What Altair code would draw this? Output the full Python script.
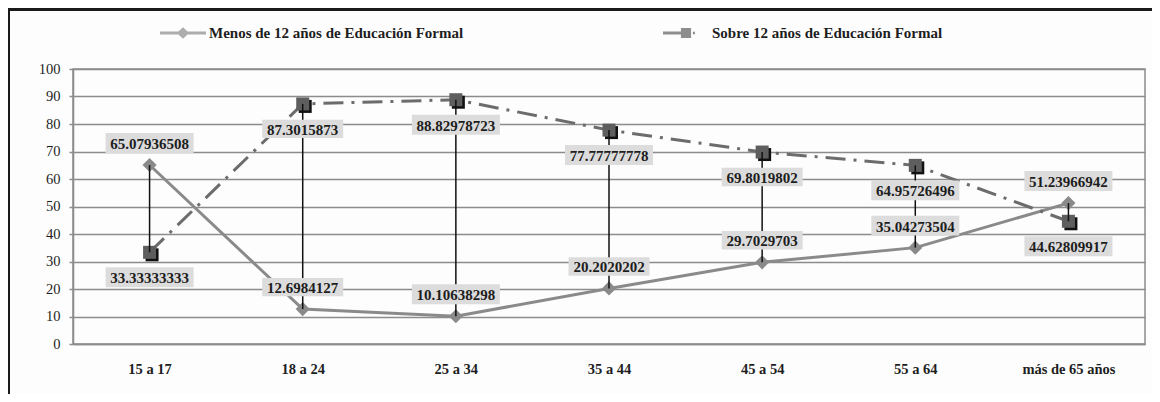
import altair as alt
import pandas as pd

categorias = ["15 a 17", "18 a 24", "25 a 34", "35 a 44", "45 a 54", "55 a 64", "más de 65 años"]
serie_menos = "Menos de 12 años de Educación Formal"
serie_sobre = "Sobre 12 años de Educación Formal"
valores_menos = [65.07936508, 12.6984127, 10.10638298, 20.2020202, 29.7029703, 35.04273504, 51.23966942]
valores_sobre = [33.33333333, 87.3015873, 88.82978723, 77.77777778, 69.8019802, 64.95726496, 44.62809917]
etiquetas_menos = ["65.07936508", "12.6984127", "10.10638298", "20.2020202", "29.7029703", "35.04273504", "51.23966942"]
etiquetas_sobre = ["33.33333333", "87.3015873", "88.82978723", "77.77777778", "69.8019802", "64.95726496", "44.62809917"]
ticks_y = [0, 10, 20, 30, 40, 50, 60, 70, 80, 90, 100]

FONT = "Liberation Serif"
C_MENOS = "#8a8a8a"
C_SOBRE = "#6c6c6c"
C_SQUARE = "#5e5e5e"
C_BOX = "#dcdcdc"
C_TEXT = "#1e1e1e"
C_GRID = "#8c8c8c"

wide = pd.DataFrame({"cat": categorias, "menos": valores_menos, "sobre": valores_sobre})

rows = []
for c, v, l in zip(categorias, valores_menos, etiquetas_menos):
    rows.append({"cat": c, "serie": serie_menos, "valor": v, "etiqueta": l})
for c, v, l in zip(categorias, valores_sobre, etiquetas_sobre):
    rows.append({"cat": c, "serie": serie_sobre, "valor": v, "etiqueta": l})
long = pd.DataFrame(rows)
# label box size (symbol area = width^2 for custom path)
long["caja"] = (long["etiqueta"].str.len() * 7 + 11) ** 2

x_scale = alt.Scale(type="point", padding=0.5)
x_axis = alt.Axis(labelAngle=0, ticks=False, grid=False, labelFontWeight="bold",
                  labelPadding=18, domainColor=C_GRID, domainWidth=1.5)
y_scale = alt.Scale(domain=[0, 100], nice=False)
y_axis = alt.Axis(values=ticks_y, grid=True, gridColor=C_GRID, gridWidth=1.5,
                  tickSize=4, tickColor=C_GRID, tickWidth=1.5, labelOverlap=False,
                  domainColor=C_GRID, domainWidth=1.5, labelPadding=9)

x_enc = alt.X("cat:N", sort=categorias, title=None, scale=x_scale, axis=x_axis)
y_enc = alt.Y("valor:Q", title=None, scale=y_scale, axis=y_axis)

base = alt.Chart(long).encode(x=x_enc, y=y_enc)
menos = base.transform_filter(alt.datum.serie == serie_menos)
sobre = base.transform_filter(alt.datum.serie == serie_sobre)

line_menos = menos.mark_line(color=C_MENOS, strokeWidth=3)
line_sobre = sobre.mark_line(color=C_SOBRE, strokeWidth=3, strokeDash=[20, 8, 3, 8])

pt_menos = menos.mark_point(shape="diamond", filled=True, size=200, color=C_MENOS, opacity=1)
shadow_sobre = sobre.mark_point(shape="square", filled=True, size=169, color="#111111",
                                opacity=1, xOffset=2.5, yOffset=2.5)
pt_sobre = sobre.mark_point(shape="square", filled=True, size=169, color=C_SQUARE, opacity=1)

hilo = alt.Chart(wide).mark_rule(color="#111111", strokeWidth=1.5).encode(
    x=alt.X("cat:N", sort=categorias, title=None, scale=x_scale, axis=x_axis),
    y=alt.Y("menos:Q", title=None, scale=y_scale, axis=y_axis),
    y2="sobre:Q")

BOX_PATH = "M-1,-0.227L1,-0.227L1,0.227L-1,0.227Z"
box_menos = menos.mark_point(shape=BOX_PATH, filled=True, color=C_BOX, opacity=1, yOffset=-22).encode(
    size=alt.Size("caja:Q", scale=None, legend=None))
box_sobre = sobre.mark_point(shape=BOX_PATH, filled=True, color=C_BOX, opacity=1, yOffset=25).encode(
    size=alt.Size("caja:Q", scale=None, legend=None))
txt_menos = menos.mark_text(font=FONT, fontSize=15, fontWeight="bold", color=C_TEXT,
                            baseline="middle", yOffset=-21).encode(text="etiqueta:N")
txt_sobre = sobre.mark_text(font=FONT, fontSize=15, fontWeight="bold", color=C_TEXT,
                            baseline="middle", yOffset=26).encode(text="etiqueta:N")

P_MENOS = ("M-1,-0.065L-0.2,-0.065L0,-0.25L0.2,-0.065L1,-0.065L1,0.065L0.2,0.065"
           "L0,0.25L-0.2,0.065L-1,0.065Z")
P_SOBRE = ("M-1,-0.065L-0.22,-0.065L-0.22,-0.22L0.22,-0.22L0.22,0.22L-0.22,0.22"
           "L-0.22,0.065L-1,0.065Z M0.3,-0.05L0.39,-0.05L0.39,0.05L0.3,0.05Z")
# legend-only layer: no rows survive the filter, scales have explicit domains
leyenda = base.transform_filter(alt.datum.valor < -1).mark_point(filled=True).encode(
    color=alt.Color("serie:N", scale=alt.Scale(domain=[serie_menos, serie_sobre], range=[C_MENOS, C_SQUARE]),
                    legend=alt.Legend(title=None, orient="none", direction="horizontal",
                                      legendX=87, legendY=-59, symbolSize=2116,
                                      symbolStrokeWidth=0, labelOffset=3, columnPadding=199,
                                      labelFont=FONT, labelFontSize=15, labelFontWeight="bold",
                                      labelColor=C_TEXT, labelLimit=400)),
    shape=alt.Shape("serie:N", scale=alt.Scale(domain=[serie_menos, serie_sobre], range=[P_MENOS, P_SOBRE])))

marco_top = alt.Chart(wide).mark_rule(color="#1a1a1a", strokeWidth=3).encode(
    x=alt.value(-66), x2=alt.value(1079), y=alt.value(-59.5))
marco_left = alt.Chart(wide).mark_rule(color="#1a1a1a", strokeWidth=3).encode(
    x=alt.value(-64.5), y=alt.value(-61), y2=alt.value(340))

chart = alt.layer(
    line_menos, line_sobre, pt_menos, shadow_sobre, pt_sobre, hilo,
    box_menos, box_sobre, txt_menos, txt_sobre, leyenda, marco_top, marco_left
).properties(
    width=1072, height=275,
    autosize=alt.AutoSizeParams(type="none"),
    padding={"left": 65, "top": 61, "right": 7, "bottom": 50},
    background="#fdfdfd",
).configure_view(
    stroke=C_GRID, strokeWidth=1.5
).configure_axis(
    labelFont=FONT, labelFontSize=14.5, labelColor=C_TEXT
)

chart.save("out.html", embed_options={"renderer": "svg", "actions": False})
